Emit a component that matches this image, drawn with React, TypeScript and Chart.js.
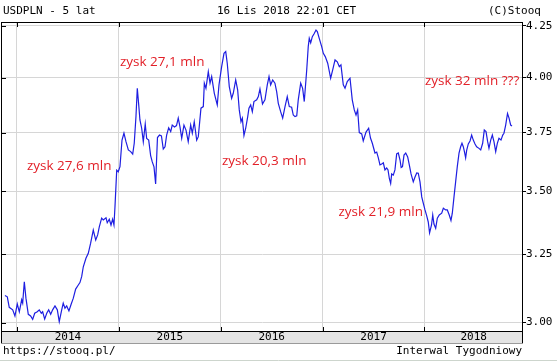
import React, { useEffect, useRef } from "react";
import { Chart, registerables } from "chart.js";

Chart.register(...registerables);

// Weekly USDPLN quotes (decimal year, price)
const dates = [
  2013.882, 2013.905, 2013.924, 2013.958, 2013.98, 2014.003, 2014.023, 2014.046, 2014.056, 2014.072,
  2014.088, 2014.111, 2014.134, 2014.154, 2014.174, 2014.199, 2014.219, 2014.239, 2014.252, 2014.272,
  2014.292, 2014.311, 2014.331, 2014.35, 2014.373, 2014.396, 2014.415, 2014.439, 2014.454, 2014.471,
  2014.488, 2014.51, 2014.53, 2014.553, 2014.576, 2014.602, 2014.618, 2014.635, 2014.651, 2014.677,
  2014.7, 2014.723, 2014.749, 2014.773, 2014.792, 2014.808, 2014.831, 2014.847, 2014.874, 2014.886,
  2014.906, 2014.923, 2014.939, 2014.952, 2014.962, 2014.979, 2014.994, 2015.011, 2015.031, 2015.05,
  2015.07, 2015.093, 2015.116, 2015.136, 2015.151, 2015.168, 2015.181, 2015.195, 2015.207, 2015.224,
  2015.24, 2015.259, 2015.273, 2015.293, 2015.312, 2015.328, 2015.345, 2015.361, 2015.379, 2015.399,
  2015.418, 2015.436, 2015.453, 2015.469, 2015.489, 2015.509, 2015.524, 2015.546, 2015.566, 2015.583,
  2015.6, 2015.617, 2015.639, 2015.659, 2015.681, 2015.705, 2015.721, 2015.74, 2015.764, 2015.78,
  2015.806, 2015.829, 2015.839, 2015.855, 2015.878, 2015.895, 2015.911, 2015.937, 2015.966, 2015.983,
  2016.009, 2016.032, 2016.049, 2016.064, 2016.084, 2016.107, 2016.123, 2016.147, 2016.166, 2016.182,
  2016.199, 2016.212, 2016.228, 2016.245, 2016.265, 2016.277, 2016.294, 2016.31, 2016.326, 2016.353,
  2016.369, 2016.385, 2016.41, 2016.434, 2016.457, 2016.474, 2016.49, 2016.51, 2016.532, 2016.549,
  2016.565, 2016.588, 2016.608, 2016.631, 2016.653, 2016.673, 2016.696, 2016.712, 2016.729, 2016.746,
  2016.761, 2016.785, 2016.804, 2016.82, 2016.844, 2016.859, 2016.869, 2016.883, 2016.899, 2016.918,
  2016.935, 2016.948, 2016.967, 2016.991, 2017.007, 2017.026, 2017.05, 2017.079, 2017.099, 2017.122,
  2017.144, 2017.164, 2017.18, 2017.203, 2017.22, 2017.242, 2017.269, 2017.291, 2017.311, 2017.328,
  2017.344, 2017.36, 2017.384, 2017.399, 2017.426, 2017.452, 2017.47, 2017.488, 2017.514, 2017.531,
  2017.547, 2017.563, 2017.58, 2017.596, 2017.612, 2017.629, 2017.642, 2017.655, 2017.668, 2017.678,
  2017.694, 2017.71, 2017.727, 2017.743, 2017.76, 2017.771, 2017.784, 2017.799, 2017.816, 2017.835,
  2017.851, 2017.868, 2017.89, 2017.907, 2017.924, 2017.939, 2017.956, 2017.973, 2017.988, 2018.005,
  2018.022, 2018.037, 2018.05, 2018.069, 2018.081, 2018.093, 2018.11, 2018.126, 2018.145, 2018.169,
  2018.185, 2018.208, 2018.224, 2018.243, 2018.26, 2018.273, 2018.29, 2018.306, 2018.322, 2018.339,
  2018.355, 2018.368, 2018.381, 2018.393, 2018.404, 2018.414, 2018.43, 2018.447, 2018.463, 2018.479,
  2018.496, 2018.512, 2018.535, 2018.552, 2018.571, 2018.587, 2018.604, 2018.62, 2018.633, 2018.65,
  2018.666, 2018.682, 2018.699, 2018.715, 2018.731, 2018.751, 2018.768, 2018.78, 2018.797, 2018.815,
  2018.83, 2018.846, 2018.859,
];

const prices = [
  3.097, 3.092, 3.054, 3.045, 3.023, 3.066, 3.038, 3.081, 3.069, 3.147,
  3.087, 3.029, 3.023, 3.011, 3.033, 3.038, 3.045, 3.033, 3.038, 3.012,
  3.033, 3.045, 3.029, 3.045, 3.059, 3.045, 3.003, 3.045, 3.069, 3.051,
  3.059, 3.041, 3.063, 3.087, 3.12, 3.135, 3.144, 3.166, 3.203, 3.235,
  3.254, 3.293, 3.344, 3.305, 3.325, 3.357, 3.391, 3.384, 3.393, 3.373,
  3.387, 3.364, 3.387, 3.364, 3.437, 3.588, 3.581, 3.603, 3.717, 3.747,
  3.71, 3.674, 3.667, 3.656, 3.703, 3.821, 3.95, 3.874, 3.806, 3.769,
  3.71, 3.788, 3.724, 3.717, 3.65, 3.623, 3.602, 3.53, 3.728, 3.739,
  3.735, 3.678, 3.688, 3.739, 3.771, 3.754, 3.783, 3.775, 3.781, 3.814,
  3.775, 3.725, 3.783, 3.761, 3.71, 3.783, 3.747, 3.798, 3.717, 3.732,
  3.859, 3.866, 3.974, 3.95, 4.028, 3.974, 4.005, 3.927, 3.874, 3.966,
  4.052, 4.116, 4.124, 4.068, 3.958, 3.904, 3.927, 3.989, 3.943, 3.851,
  3.798, 3.814, 3.737, 3.769, 3.821, 3.859, 3.874, 3.843, 3.889, 3.897,
  3.912, 3.947, 3.878, 3.897, 3.966, 4.005, 3.966, 3.989, 3.974, 3.935,
  3.881, 3.843, 3.814, 3.866, 3.912, 3.866, 3.863, 3.828, 3.821, 3.824,
  3.897, 3.974, 3.95, 3.889, 4.036, 4.148, 4.189, 4.167, 4.197, 4.213,
  4.23, 4.222, 4.189, 4.148, 4.116, 4.1, 4.068, 3.997, 4.036, 4.084,
  4.075, 4.052, 4.06, 3.966, 3.95, 3.981, 3.997, 3.897, 3.851, 3.828,
  3.851, 3.75, 3.744, 3.713, 3.752, 3.769, 3.726, 3.703, 3.661, 3.665,
  3.64, 3.61, 3.614, 3.619, 3.589, 3.597, 3.589, 3.553, 3.532, 3.572,
  3.567, 3.589, 3.657, 3.661, 3.631, 3.599, 3.603, 3.652, 3.661, 3.644,
  3.61, 3.572, 3.539, 3.559, 3.576, 3.575, 3.539, 3.477, 3.452, 3.424,
  3.4, 3.376, 3.333, 3.364, 3.404, 3.368, 3.351, 3.391, 3.404, 3.411,
  3.431, 3.424, 3.424, 3.404, 3.382, 3.411, 3.478, 3.54, 3.603, 3.66,
  3.688, 3.703, 3.688, 3.665, 3.64, 3.672, 3.7, 3.713, 3.739, 3.717,
  3.7, 3.688, 3.681, 3.674, 3.703, 3.761, 3.754, 3.71, 3.681, 3.717,
  3.739, 3.71, 3.667, 3.703, 3.725, 3.717, 3.739, 3.747, 3.783, 3.835,
  3.814, 3.783, 3.779,
];

const yearTicks = [2014, 2015, 2016, 2017, 2018];
const priceTicks = [3.0, 3.25, 3.5, 3.75, 4.0, 4.25];
const xMin = 2013.853;
const xMax = 2018.967;
const yMin = 2.9702;
const yMax = 4.265;

const noteTexts = ["zysk 27,6 mln", "zysk 27,1 mln", "zysk 20,3 mln", "zysk 21,9 mln", "zysk 32 mln ???"];
const noteDates = [2014.098, 2015.011, 2016.012, 2017.156, 2018.005];
const notePrices = [3.604, 4.074, 3.625, 3.414, 3.984];

const titleText = "USDPLN - 5 lat";
const stampText = "16 Lis 2018 22:01 CET";
const copyText = "(C)Stooq";
const siteText = "https://stooq.pl/";
const intervalText = "Interwal Tygodniowy";

const MONO = "11px 'DejaVu Sans Mono', monospace";
const NOTE_FONT = "13.5px 'Open Sans', sans-serif";
const LINE_BLUE = "rgb(30,30,225)";
const NOTE_RED = "rgb(226,32,40)";
const GRID = "#d6d6d6";

const chromePlugin = {
  id: "stooqChrome",
  beforeDraw(chart: any) {
    const { ctx, width, height } = chart;
    ctx.save();
    ctx.fillStyle = "#ffffff";
    ctx.fillRect(0, 0, width, height);
    ctx.restore();
  },
  afterDatasetsDraw(chart: any) {
    const { ctx, scales } = chart;
    const xs = scales.x;
    const ys = scales.y;
    ctx.save();
    ctx.font = NOTE_FONT;
    ctx.fillStyle = NOTE_RED;
    ctx.textAlign = "left";
    ctx.textBaseline = "middle";
    noteTexts.forEach((t, i) => {
      ctx.fillText(t, xs.getPixelForValue(noteDates[i]), ys.getPixelForValue(notePrices[i]));
    });
    ctx.restore();
  },
  afterDraw(chart: any) {
    const { ctx, chartArea, scales, width } = chart;
    const xs = scales.x;
    const ys = scales.y;
    const { left, right, top, bottom } = chartArea;
    ctx.save();
    ctx.fillStyle = "#e4e4e4";
    ctx.fillRect(left - 1, bottom, right - left + 1, 12);
    ctx.strokeStyle = "#000";
    ctx.lineWidth = 1;
    ctx.beginPath();
    ctx.moveTo(left - 1, top - 0.5);
    ctx.lineTo(right, top - 0.5);
    ctx.moveTo(left - 0.5, top - 1);
    ctx.lineTo(left - 0.5, bottom + 12);
    ctx.moveTo(right - 0.5, top - 1);
    ctx.lineTo(right - 0.5, bottom + 12);
    ctx.moveTo(left - 1, bottom + 0.5);
    ctx.lineTo(right, bottom + 0.5);
    ctx.stroke();
    ctx.strokeStyle = "#9a9a9a";
    ctx.beginPath();
    ctx.moveTo(left - 1, bottom + 12.5);
    ctx.lineTo(right, bottom + 12.5);
    ctx.stroke();
    ctx.strokeStyle = "#000";
    ctx.beginPath();
    priceTicks.forEach((v) => {
      const y = Math.round(ys.getPixelForValue(v)) + 0.5;
      ctx.moveTo(left, y);
      ctx.lineTo(left + 4, y);
    });
    yearTicks.forEach((yr) => {
      const x = Math.round(xs.getPixelForValue(yr)) + 0.5;
      ctx.moveTo(x, top);
      ctx.lineTo(x, top + 4);
      ctx.moveTo(x, bottom);
      ctx.lineTo(x, bottom - 4);
    });
    ctx.stroke();
    ctx.font = MONO;
    ctx.fillStyle = "#000";
    ctx.textAlign = "center";
    ctx.textBaseline = "middle";
    yearTicks.forEach((yr) => {
      const a = xs.getPixelForValue(yr);
      const b = xs.getPixelForValue(Math.min(yr + 1, xMax));
      ctx.fillText(String(yr), (a + b) / 2, bottom + 6.5);
    });
    ctx.textAlign = "left";
    ctx.fillText(titleText, 3, 11.5);
    ctx.fillText(stampText, 217, 11.5);
    ctx.fillText(copyText, 488, 11.5);
    ctx.fillText(siteText, 3, 351);
    ctx.textAlign = "right";
    ctx.fillText(intervalText, right - 1, 351);
    ctx.strokeStyle = "#cdd5cd";
    ctx.beginPath();
    ctx.moveTo(0, 360.5);
    ctx.lineTo(width, 360.5);
    ctx.stroke();
    ctx.restore();
  },
};

export default function App() {
  const ref = useRef<HTMLCanvasElement | null>(null);
  useEffect(() => {
    document.body.style.margin = "0";
    const canvas = ref.current;
    if (!canvas) return;
    const points = dates.map((d, i) => ({ x: d, y: prices[i] }));
    const chart = new Chart(canvas, {
      type: "line",
      data: {
        datasets: [
          {
            data: points,
            borderColor: LINE_BLUE,
            borderWidth: 1.2,
            pointRadius: 0,
            tension: 0,
            fill: false,
          },
        ],
      },
      options: {
        animation: false,
        responsive: false,
        devicePixelRatio: 1,
        events: [],
        layout: { padding: { left: 2, top: 23, right: 0, bottom: 31 } },
        plugins: { legend: { display: false }, tooltip: { enabled: false }, title: { display: false } },
        scales: {
          x: {
            type: "linear",
            min: xMin,
            max: xMax,
            afterBuildTicks: (s: any) => {
              s.ticks = yearTicks.map((v) => ({ value: v }));
            },
            afterFit: (s: any) => {
              s.height = 0;
            },
            ticks: { display: false },
            grid: { color: GRID, drawTicks: false, lineWidth: 1 },
            border: { display: false },
          },
          y: {
            type: "logarithmic",
            position: "right",
            min: yMin,
            max: yMax,
            afterBuildTicks: (s: any) => {
              s.ticks = priceTicks.map((v) => ({ value: v }));
            },
            afterFit: (s: any) => {
              s.width = 34;
            },
            ticks: {
              autoSkip: false,
              padding: 0,
              color: "#000",
              font: { family: "'DejaVu Sans Mono', monospace", size: 11 },
              callback: (v: any) => Number(v).toFixed(2),
            },
            grid: { color: GRID, tickColor: "#000", tickLength: 3, lineWidth: 1 },
            border: { display: false },
          },
        },
      },
      plugins: [chromePlugin],
    });
    return () => chart.destroy();
  }, []);
  return (
    <canvas
      ref={ref}
      width={557}
      height={362}
      style={{ display: "block", width: 557, height: 362 }}
    />
  );
}
